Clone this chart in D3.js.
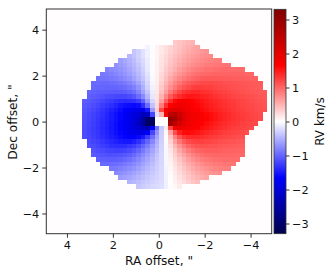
<!DOCTYPE html>
<html lang="en">
<head>
<meta charset="UTF-8">
<title>RV map</title>
<script src="https://d3js.org/d3.v7.min.js"></script>
<style>
    body { margin: 0; background: #fff; }
    text { font-family: "DejaVu Sans", sans-serif; fill: #111; }
</style>
</head>
<body>
<div id="content"></div>
<script>
    var xTicks = [4, 2, 0, -2, -4];
    var yTicks = [4, 2, 0, -2, -4];
    var cbTicks = [3, 2, 1, 0, -1, -2, -3];
    var xLabel = 'RA offset, "';
    var yLabel = 'Dec offset, "';
    var cbLabel = "RV km/s";

    // colour limits and the stops of the map
    var rvStops = [-3.3, -1.65, 0, 1.65, 3.3];
    var rvColors = ["#00004d", "#0000ff", "#ffffff", "#ff0000", "#800000"];

    // first filled column of every row of the map
    var firstCol = [20, 14, 11, 10, 8, 7, 5, 4, 3, 2, 2, 1, 1, 0, 0, 0, 0, 0, 0, 0, 0, 0, 1, 1, 2, 2, 3, 4, 6, 7, 8, 10, 12];

    // RV, row by row from the top, null = hole at the star
    var rv = [
        [.35,.38,.42,.46,.5],
        [-.08,-.01,.08,.15,.21,.28,.34,.4,.46,.51,.56,.6],
        [-.38,-.3,-.2,-.1,-.02,.08,.15,.22,.3,.37,.43,.49,.54,.59,.63,.67,.7],
        [-.46,-.38,-.3,-.2,-.1,-.01,.08,.17,.25,.33,.4,.47,.53,.59,.63,.67,.72,.74,.77],
        [-.62,-.57,-.5,-.42,-.33,-.23,-.12,-.02,.08,.18,.27,.36,.44,.51,.58,.63,.68,.72,.76,.79,.81,.83,.84],
        [-.7,-.66,-.6,-.53,-.46,-.37,-.26,-.13,-.02,.09,.19,.3,.39,.47,.55,.62,.68,.74,.78,.81,.85,.86,.88,.89,.89,.9],
        [-.8,-.76,-.74,-.7,-.65,-.58,-.5,-.41,-.3,-.15,-.02,.09,.21,.33,.43,.52,.62,.69,.76,.82,.86,.88,.92,.92,.94,.95,.97,.96,.96,.96,.96],
        [-.87,-.84,-.82,-.79,-.74,-.69,-.62,-.54,-.45,-.33,-.18,-.03,.1,.24,.37,.48,.6,.68,.76,.84,.89,.93,.96,.98,.99,1,1,1,1,1,1,1,.99,.99],
        [-.92,-.9,-.89,-.87,-.85,-.8,-.75,-.69,-.6,-.5,-.38,-.22,-.04,.11,.27,.42,.55,.68,.78,.86,.92,.98,1.03,1.06,1.07,1.07,1.07,1.06,1.06,1.05,1.05,1.04,1.04,1.03,1.03,1.02],
        [-.97,-.96,-.97,-.97,-.95,-.93,-.9,-.86,-.8,-.72,-.6,-.45,-.26,-.06,.12,.31,.48,.64,.79,.9,1,1.08,1.12,1.15,1.18,1.18,1.18,1.17,1.16,1.14,1.13,1.12,1.11,1.1,1.09,1.08,1.07,1.06],
        [-.98,-1,-1,-1.01,-1,-1,-.98,-.95,-.9,-.82,-.7,-.52,-.3,-.09,.14,.35,.55,.73,.88,1.02,1.11,1.17,1.24,1.26,1.26,1.25,1.25,1.21,1.19,1.17,1.15,1.14,1.12,1.11,1.1,1.09,1.07,1.06],
        [-1,-1.02,-1.04,-1.05,-1.06,-1.07,-1.07,-1.07,-1.05,-1,-.93,-.8,-.6,-.37,-.12,.15,.41,.64,.87,1.05,1.2,1.3,1.36,1.4,1.39,1.36,1.34,1.3,1.27,1.25,1.22,1.2,1.17,1.15,1.13,1.12,1.1,1.09,1.07,1.05],
        [-1.03,-1.06,-1.09,-1.12,-1.15,-1.17,-1.19,-1.2,-1.2,-1.16,-1.1,-.96,-.77,-.48,-.16,.18,.5,.79,1.07,1.26,1.38,1.46,1.51,1.5,1.48,1.44,1.41,1.37,1.33,1.3,1.27,1.24,1.21,1.19,1.17,1.15,1.13,1.11,1.09,1.07],
        [-1.05,-1.08,-1.11,-1.15,-1.19,-1.24,-1.27,-1.32,-1.36,-1.37,-1.36,-1.33,-1.25,-1.02,-.65,-.25,.2,.63,1.03,1.38,1.6,1.72,1.73,1.7,1.64,1.58,1.52,1.47,1.43,1.39,1.36,1.32,1.29,1.26,1.23,1.21,1.18,1.16,1.14,1.12,1.1],
        [-1.08,-1.11,-1.15,-1.2,-1.26,-1.31,-1.36,-1.42,-1.5,-1.55,-1.58,-1.6,-1.55,-1.35,-.95,-.4,.25,.85,1.36,1.66,1.82,1.85,1.8,1.75,1.68,1.62,1.56,1.5,1.46,1.42,1.38,1.34,1.31,1.28,1.25,1.22,1.2,1.18,1.15,1.13,1.11],
        [-1.11,-1.15,-1.2,-1.25,-1.31,-1.38,-1.44,-1.5,-1.58,-1.65,-1.72,-1.82,-1.85,-1.85,-1.5,-.65,.3,1.2,1.72,2,2.05,2,1.9,1.8,1.72,1.65,1.6,1.54,1.49,1.45,1.41,1.37,1.34,1.3,1.27,1.24,1.21,1.19,1.17,1.15,1.13],
        [-1.13,-1.18,-1.23,-1.28,-1.34,-1.41,-1.48,-1.55,-1.62,-1.72,-1.85,-1.95,-2.05,-2.3,-2.2,-1.2,-.2,.5,1.7,2.5,2.6,2.3,2.05,1.9,1.8,1.75,1.7,1.62,1.57,1.5,1.45,1.41,1.37,1.33,1.3,1.27,1.24,1.21,1.19,1.17],
        [-1.14,-1.19,-1.24,-1.3,-1.36,-1.42,-1.48,-1.55,-1.62,-1.72,-1.85,-1.95,-2.15,-2.5,-3,-3.1,null,null,null,3,2.9,2.4,2.1,1.9,1.8,1.75,1.7,1.65,1.58,1.52,1.47,1.42,1.38,1.34,1.31,1.28,1.25,1.22,1.2,1.18],
        [-1.15,-1.2,-1.25,-1.31,-1.37,-1.43,-1.5,-1.57,-1.64,-1.75,-1.87,-2,-2.2,-2.55,-3.05,-3.2,null,null,null,2.8,2.5,2.2,2,1.85,1.75,1.7,1.65,1.58,1.52,1.47,1.42,1.38,1.34,1.31,1.28,1.25,1.22,1.2,1.18],
        [-1.16,-1.21,-1.26,-1.32,-1.38,-1.44,-1.5,-1.57,-1.64,-1.73,-1.85,-1.95,-2.05,-2.2,-2.35,-1.75,-.9,-.35,.15,1.2,1.75,1.9,1.85,1.8,1.72,1.65,1.58,1.52,1.47,1.42,1.38,1.34,1.3,1.27,1.24,1.22,1.2,1.17],
        [-1.16,-1.21,-1.26,-1.31,-1.37,-1.43,-1.49,-1.55,-1.62,-1.69,-1.78,-1.85,-1.9,-1.9,-1.7,-1.2,-.7,-.33,.06,.6,1.15,1.45,1.58,1.6,1.56,1.52,1.47,1.42,1.38,1.34,1.3,1.27,1.25,1.22,1.2,1.18,1.16],
        [-1.15,-1.2,-1.25,-1.3,-1.35,-1.41,-1.47,-1.52,-1.58,-1.63,-1.68,-1.68,-1.6,-1.5,-1.25,-.95,-.6,-.32,-.02,.4,.82,1.12,1.3,1.38,1.4,1.38,1.35,1.32,1.29,1.26,1.23,1.21,1.19,1.17,1.15,1.13],
        [-1.17,-1.21,-1.25,-1.3,-1.35,-1.4,-1.44,-1.48,-1.5,-1.5,-1.45,-1.35,-1.2,-1,-.78,-.52,-.3,-.03,.3,.62,.88,1.05,1.17,1.22,1.24,1.24,1.22,1.2,1.18,1.16,1.14,1.12,1.11,1.09,1.08],
        [-1.13,-1.17,-1.21,-1.25,-1.29,-1.33,-1.35,-1.36,-1.35,-1.3,-1.25,-1.15,-1,-.85,-.66,-.47,-.28,-.04,.22,.48,.7,.87,1,1.08,1.12,1.13,1.13,1.12,1.11,1.09,1.08,1.07,1.06,1.05,1.04],
        [-1.12,-1.15,-1.18,-1.21,-1.23,-1.24,-1.24,-1.22,-1.17,-1.1,-1,-.87,-.73,-.58,-.42,-.27,-.05,.17,.38,.57,.72,.85,.94,1,1.03,1.05,1.05,1.05,1.04,1.03,1.02,1.02,1.01,1],
        [-1.07,-1.09,-1.11,-1.13,-1.14,-1.13,-1.12,-1.09,-1.04,-.97,-.88,-.77,-.65,-.52,-.38,-.26,-.05,.13,.31,.47,.6,.72,.81,.88,.93,.96,.98,.99,.99,.99,.99,.98,.98,.97],
        [-1.03,-1.04,-1.05,-1.05,-1.04,-1.02,-.98,-.93,-.86,-.78,-.68,-.58,-.47,-.35,-.25,-.05,.1,.25,.39,.51,.62,.71,.78,.84,.88,.91,.93,.94,.95,.95,.95,.94],
        [-.97,-.97,-.96,-.95,-.92,-.88,-.83,-.77,-.7,-.61,-.52,-.42,-.33,-.25,-.06,.08,.21,.33,.44,.54,.62,.69,.75,.8,.83,.86,.88,.89,.9,.9],
        [-.88,-.86,-.83,-.79,-.74,-.69,-.62,-.54,-.46,-.38,-.31,-.24,-.07,.05,.17,.28,.38,.47,.55,.62,.67,.72,.76,.79,.81,.83,.84],
        [-.77,-.74,-.7,-.66,-.6,-.54,-.48,-.41,-.35,-.29,-.24,-.08,.03,.14,.24,.33,.41,.48,.55,.6,.65,.69,.72,.75],
        [-.65,-.62,-.58,-.53,-.48,-.42,-.37,-.32,-.27,-.23,-.09,.02,.11,.2,.28,.36,.43,.49,.54,.58],
        [-.5,-.46,-.42,-.37,-.33,-.29,-.25,-.22,-.1,0,.09,.17,.24,.31,.37,.43],
        [-.37,-.33,-.29,-.26,-.23,-.21,-.1,-.01,.06,.13]
    ];

    // map grid in arcsec: top left corner and cell size
    var gridRA = 3.33, gridDec = 3.55, cellSize = 0.1965;

    var svg = d3.select("#content").append("svg")
        .attr("width", 332)
        .attr("height", 274)
        .style("display", "block");

    var x = d3.scaleLinear().domain([4.9, -4.92]).range([46.3, 271.7]);
    var y = d3.scaleLinear().domain([4.9, -4.88]).range([9, 233.7]);
    var color = d3.scaleLinear().domain(rvStops).range(rvColors);

    svg.append("rect")
        .attr("x", x(4.9)).attr("y", y(4.9))
        .attr("width", x(-4.92) - x(4.9)).attr("height", y(-4.88) - y(4.9))
        .attr("fill", "#fffdfe");

    // flatten rows to cells
    var cells = [];
    rv.forEach(function(row, r) {
        row.forEach(function(v, i) {
            if (v !== null) cells.push({r: r, c: firstCol[r] + i, v: v});
        });
    });

    svg.append("g")
        .attr("shape-rendering", "crispEdges")
        .selectAll("rect")
        .data(cells)
        .join("rect")
        .attr("x", d => x(gridRA - d.c * cellSize))
        .attr("y", d => y(gridDec - d.r * cellSize))
        .attr("width", x(0) - x(cellSize))
        .attr("height", y(0) - y(cellSize))
        .attr("fill", d => color(d.v));

    svg.append("rect")
        .attr("x", x(4.9)).attr("y", y(4.9))
        .attr("width", x(-4.92) - x(4.9)).attr("height", y(-4.88) - y(4.9))
        .attr("fill", "none")
        .attr("stroke", "#333")
        .attr("stroke-width", 1);

    function styleAxis(g) {
        g.select(".domain").remove();
        g.selectAll("line").attr("stroke", "#333");
        g.selectAll("text").attr("font-size", 11.3).style("font-family", '"DejaVu Sans"').attr("fill", "#111");
    }

    svg.append("g")
        .attr("transform", "translate(0,233.7)")
        .call(d3.axisBottom(x).tickValues(xTicks).tickSize(4).tickPadding(3.5))
        .call(styleAxis);

    svg.append("g")
        .attr("transform", "translate(46.3,0)")
        .call(d3.axisLeft(y).tickValues(yTicks).tickSize(4).tickPadding(3))
        .call(styleAxis);

    // colorbar
    var cb = d3.scaleLinear().domain([3.3, -3.3]).range([9.3, 233.7]);

    var grad = svg.append("defs").append("linearGradient")
        .attr("id", "cbGrad")
        .attr("x1", 0).attr("x2", 0).attr("y1", 0).attr("y2", 1);
    grad.selectAll("stop")
        .data(rvStops.slice().reverse())
        .join("stop")
        .attr("offset", d => (cb(d) - cb(3.3)) / (cb(-3.3) - cb(3.3)))
        .attr("stop-color", d => color(d));

    svg.append("rect")
        .attr("x", 274).attr("y", cb(3.3))
        .attr("width", 12).attr("height", cb(-3.3) - cb(3.3))
        .attr("fill", "url(#cbGrad)")
        .attr("stroke", "#333")
        .attr("stroke-width", 0.8);

    svg.append("g")
        .attr("transform", "translate(286,0)")
        .call(d3.axisRight(cb).tickValues(cbTicks).tickFormat(d3.format("d")).tickSize(3.5).tickPadding(2.5))
        .call(styleAxis);

    // labels
    svg.append("text")
        .attr("x", 159).attr("y", 265)
        .attr("text-anchor", "middle")
        .attr("font-size", 12.2)
        .text(xLabel);

    svg.append("text")
        .attr("transform", "translate(16.5,122) rotate(-90)")
        .attr("text-anchor", "middle")
        .attr("font-size", 12.2)
        .text(yLabel);

    svg.append("text")
        .attr("transform", "translate(323.5,121.5) rotate(-90)")
        .attr("text-anchor", "middle")
        .attr("font-size", 12)
        .text(cbLabel);
</script>
</body>
</html>
